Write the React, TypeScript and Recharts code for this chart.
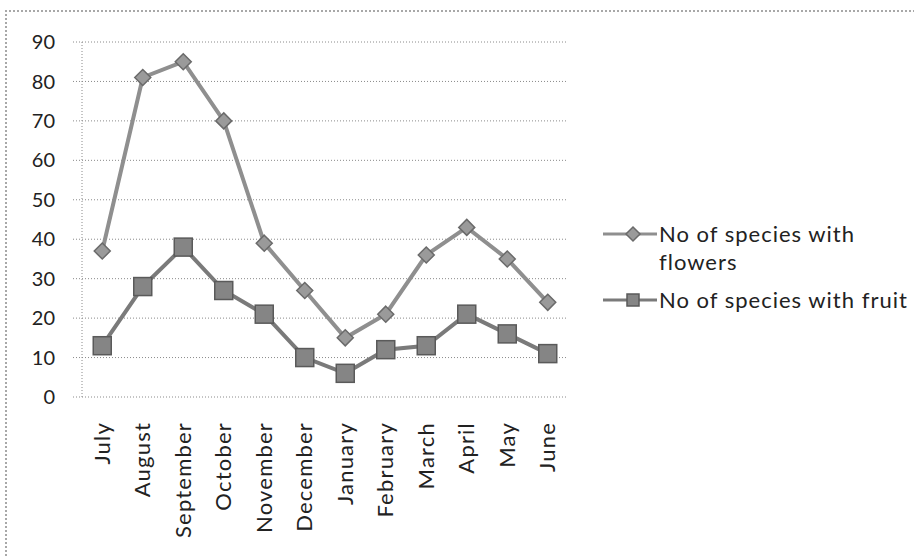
import { LineChart, Line, XAxis, YAxis, CartesianGrid } from "recharts";

const months = [
  "July", "August", "September", "October", "November", "December",
  "January", "February", "March", "April", "May", "June",
];
const flowers = [37, 81, 85, 70, 39, 27, 15, 21, 36, 43, 35, 24];
const fruit = [13, 28, 38, 27, 21, 10, 6, 12, 13, 21, 16, 11];
const yTicks = [0, 10, 20, 30, 40, 50, 60, 70, 80, 90];
const centerTicks = months.map((_, i) => i);
const edgeTicks = [...months.map((_, i) => i - 0.5), months.length - 0.5];

const data = months.map((m, i) => ({ i, month: m, flowers: flowers[i], fruit: fruit[i] }));

const FONT = "Lato, 'Open Sans', sans-serif";

const Diamond = (props: any) => {
  const { cx, cy } = props;
  if (cx == null || cy == null) return null;
  const r = 8;
  return (
    <polygon
      points={`${cx},${cy - r} ${cx + r},${cy} ${cx},${cy + r} ${cx - r},${cy}`}
      fill="#9a9a9a"
      stroke="#6a6a6a"
      strokeWidth={1.5}
    />
  );
};

const Square = (props: any) => {
  const { cx, cy } = props;
  if (cx == null || cy == null) return null;
  const r = 9;
  return (
    <rect x={cx - r} y={cy - r} width={r * 2} height={r * 2} fill="#858585" stroke="#5a5a5a" strokeWidth={1.5} />
  );
};

const MonthTick = (props: any) => {
  const { x, y, payload } = props;
  return (
    <text
      x={x}
      y={y}
      transform={`rotate(-90 ${x} ${y})`}
      textAnchor="end"
      dy="0.35em"
      fontSize={22}
      fontFamily={FONT}
      fill="#222"
      style={{ letterSpacing: "1.2px" }}
    >
      {months[payload.value]}
    </text>
  );
};

// legend drawn as an overlay so it does not shrink the plot
const LegendBox = () => (
  <div
    style={{
      position: "absolute",
      left: 603,
      top: 220,
      fontFamily: FONT,
      fontSize: 22,
      letterSpacing: "1px",
      color: "#222",
      lineHeight: "28px",
    }}
  >
    <div style={{ display: "flex", alignItems: "flex-start" }}>
      <svg width={56} height={28}>
        <line x1={0} y1={14} x2={54} y2={14} stroke="#8f8f8f" strokeWidth={3} />
        <polygon points="30,7 37,14 30,21 23,14" fill="#9a9a9a" stroke="#6a6a6a" strokeWidth={1.5} />
      </svg>
      <div style={{ width: 240 }}>No of species with flowers</div>
    </div>
    <div style={{ display: "flex", alignItems: "flex-start", marginTop: 10 }}>
      <svg width={56} height={28}>
        <line x1={0} y1={14} x2={54} y2={14} stroke="#7a7a7a" strokeWidth={3} />
        <rect x={24} y={8} width={12} height={12} fill="#858585" stroke="#5a5a5a" strokeWidth={1.5} />
      </svg>
      <div style={{ whiteSpace: "nowrap" }}>No of species with fruit</div>
    </div>
  </div>
);

export default function App() {
  return (
    <div style={{ position: "absolute", left: 0, top: 0, width: 914, height: 556, background: "#fff", overflow: "hidden" }}>
      <div
        style={{
          position: "absolute",
          left: 5,
          top: 10,
          width: 920,
          height: 560,
          borderLeft: "2px dotted #a8a8a8",
          borderTop: "2px dotted #a8a8a8",
        }}
      />
      <div style={{ position: "absolute", left: 0, top: 0 }}>
        <LineChart width={914} height={556} data={data} margin={{ top: 42, right: 346, bottom: 0, left: 0 }}>
          <CartesianGrid vertical={false} stroke="#8a8a8a" strokeDasharray="1 2" />
          <XAxis
            xAxisId="edge"
            dataKey="i"
            type="number"
            domain={[-0.5, 11.5]}
            ticks={edgeTicks}
            tick={false}
            tickSize={6}
            height={0}
            axisLine={{ stroke: "#8a8a8a", strokeDasharray: "1 2" }}
            tickLine={{ stroke: "#8a8a8a" }}
          />
          <XAxis
            dataKey="i"
            type="number"
            domain={[-0.5, 11.5]}
            ticks={centerTicks}
            interval={0}
            tick={<MonthTick />}
            tickSize={0}
            tickMargin={25}
            height={159}
            axisLine={false}
            tickLine={false}
          />
          <YAxis
            domain={[0, 90]}
            ticks={yTicks}
            width={82}
            tickSize={9}
            tickMargin={18}
            interval={0}
            axisLine={{ stroke: "#8a8a8a", strokeDasharray: "1 2" }}
            tickLine={{ stroke: "#8a8a8a", strokeDasharray: "1 2" }}
            tick={{ fontSize: 20, fontFamily: FONT, fill: "#222" }}
          />
          <Line
            dataKey="flowers"
            stroke="#8f8f8f"
            strokeWidth={4}
            dot={<Diamond />}
            activeDot={false}
            isAnimationActive={false}
          />
          <Line
            dataKey="fruit"
            stroke="#7a7a7a"
            strokeWidth={4}
            dot={<Square />}
            activeDot={false}
            isAnimationActive={false}
          />
        </LineChart>
      </div>
      <LegendBox />
    </div>
  );
}
